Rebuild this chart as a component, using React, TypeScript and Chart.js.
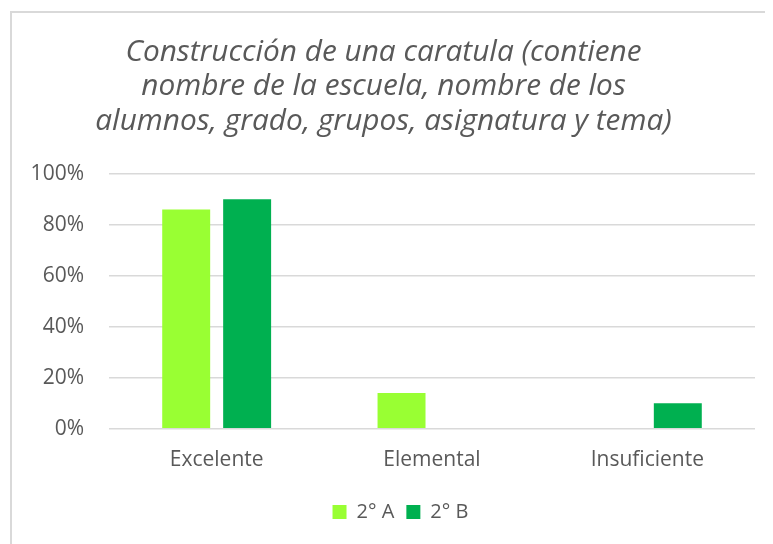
import React, { useEffect, useRef } from "react";
import { Chart, registerables } from "chart.js";

Chart.register(...registerables);

const titleLines = [
  "Construcción de una caratula (contiene",
  "nombre de la escuela, nombre de los",
  "alumnos, grado, grupos, asignatura y tema)",
];
const categories = ["Excelente", "Elemental", "Insuficiente"];
const seriesA = [0.86, 0.14, 0];
const seriesB = [0.9, 0, 0.1];
const seriesNames = ["2° A", "2° B"];
const yTicks = [0, 0.2, 0.4, 0.6, 0.8, 1];

const legendShift = {
  id: "legendShift",
  afterLayout(chart: any) {
    if (chart.legend) {
      chart.legend.left += 17;
      chart.legend.right += 17;
    }
  },
};

export default function App() {
  const ref = useRef<HTMLCanvasElement>(null);
  useEffect(() => {
    if (!ref.current) return;
    const textColor = "#595959";
    const chart = new Chart(ref.current, {
      type: "bar",
      data: {
        labels: categories,
        datasets: [
          { label: seriesNames[0], data: seriesA, backgroundColor: "#99FF33" },
          { label: seriesNames[1], data: seriesB, backgroundColor: "#00B050" },
        ],
      },
      plugins: [legendShift],
      options: {
        animation: false,
        responsive: false,
        devicePixelRatio: 1,
        datasets: { bar: { categoryPercentage: 0.566, barPercentage: 0.787 } },
        layout: { padding: { left: 0, right: 18, top: 22, bottom: 12 } },
        plugins: {
          tooltip: { enabled: false },
          title: {
            display: true,
            text: titleLines,
            color: textColor,
            font: { family: "'Open Sans', sans-serif", size: 29.8, style: "italic", weight: "normal", lineHeight: 1.16 },
            padding: { top: 0, bottom: 35 },
          },
          legend: {
            position: "bottom",
            labels: {
              color: textColor,
              font: { family: "'Open Sans', sans-serif", size: 20 },
              boxWidth: 14,
              boxHeight: 14,
              padding: 12,
            },
          },
        },
        scales: {
          x: {
            grid: { display: false },
            border: { display: false },
            afterFit: (s: any) => { s.height += 6; },
            ticks: { color: textColor, font: { family: "'Open Sans', sans-serif", size: 21 }, padding: 11 },
          },
          y: {
            min: 0,
            max: 1,
            afterFit: (s: any) => { s.width = 97; },
            afterBuildTicks: (s: any) => { s.ticks = yTicks.map((v) => ({ value: v })); },
            grid: { color: "#d9d9d9", lineWidth: 1.5, drawTicks: false },
            border: { display: false },
            ticks: {
              color: textColor,
              font: { family: "'Open Sans', sans-serif", size: 21 },
              padding: 25,
              callback: (v: any) => Math.round(Number(v) * 100) + "%",
            },
          },
        },
      },
    });
    return () => chart.destroy();
  }, []);
  return (
    <div style={{ marginLeft: 2, marginTop: 3, borderTop: "2px solid #d9d9d9", borderLeft: "2px solid #d9d9d9", width: 763, height: 533, overflow: "hidden" }}>
      <canvas ref={ref} width={761} height={531} style={{ display: "block" }} />
    </div>
  );
}
